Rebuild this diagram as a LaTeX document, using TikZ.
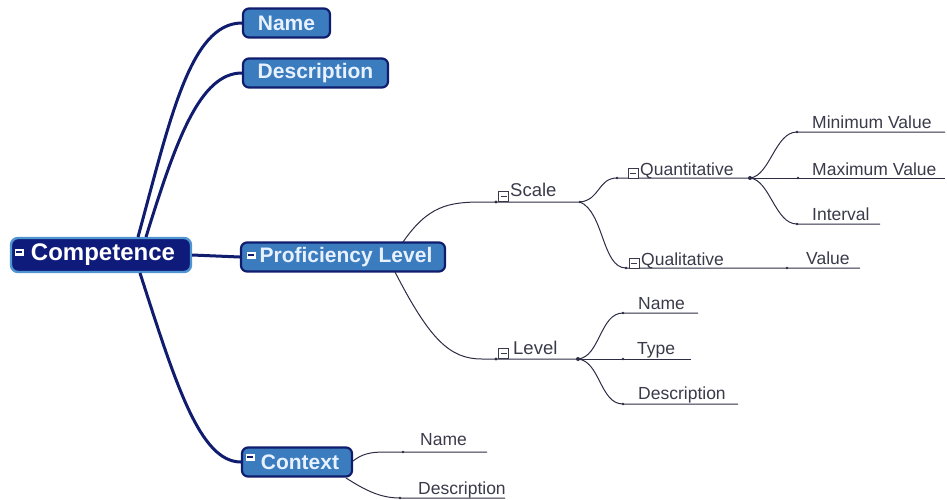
\documentclass[tikz,border=0pt]{standalone}
\usepackage{fontspec}
\setmainfont{Liberation Sans}
\definecolor{navy}{HTML}{101C6E}
\definecolor{boxblue}{HTML}{3A7CBE}
\definecolor{boxtext}{HTML}{E8F1FF}
\definecolor{compfill}{HTML}{0E1B7A}
\definecolor{compborder}{HTML}{4F95D2}
\definecolor{twiggray}{HTML}{2C2C44}
\definecolor{textgray}{HTML}{3A3A4A}
\begin{document}
\begin{tikzpicture}[x=1pt,y=-1pt,
  bigbox/.style={draw=navy, line width=2.2pt, fill=boxblue, rounded corners=6pt,
    text=boxtext, font=\fontsize{21}{25}\selectfont\bfseries, inner sep=0pt},
  compbox/.style={draw=compborder, line width=2.4pt, fill=compfill, rounded corners=7pt,
    text=white, font=\fontsize{24}{28}\selectfont\bfseries, inner sep=0pt},
  trunk/.style={draw=navy, line width=3pt},
  twig/.style={draw=twiggray, line width=1pt},
  lbl/.style={font=\fontsize{17.5}{20}\selectfont, text=textgray, inner sep=0pt, anchor=base west},
  sublbl/.style={font=\fontsize{18.5}{21}\selectfont, text=textgray, inner sep=0pt, anchor=base west},
  minusicon/.pic={\draw[draw=textgray, line width=0.7pt, fill=white] (-5,-5) rectangle (5,5);
                  \draw[draw=textgray, line width=0.9pt] (-3,0) -- (3,0);},
  whiteicon/.pic={\fill[white] (-4.5,-3.5) rectangle (4.5,3.5);
                  \draw[draw=navy, line width=1.2pt] (-3,0) -- (3,0);}
]
\useasboundingbox (0,0) rectangle (947,499);

% ---------- main boxes ----------
\node[compbox, minimum width=180pt, minimum height=34pt] (comp) at (101,255) {\hspace{4pt}Competence};
\node[bigbox, minimum width=87pt, minimum height=29pt] (name1) at (286.5,23) {Name};
\node[bigbox, minimum width=145pt, minimum height=29pt] (desc1) at (315.5,73) {Description};
\node[bigbox, minimum width=204pt, minimum height=29pt] (prof) at (343,257) {\hspace{6pt}Proficiency Level};
\node[bigbox, minimum width=110pt, minimum height=29pt] (ctx) at (297,462) {\hspace{6pt}Context};

\pic at (19,252) {whiteicon};
\pic at (251,255) {whiteicon};
\pic at (250,457) {whiteicon};

% ---------- thick connectors ----------
\coordinate (c1) at (138,237);
\coordinate (c2) at (146,237);
\coordinate (c3) at (140,273);
\draw[trunk] (c1) .. controls (170,120) and (190,23) .. (name1.west);
\draw[trunk] (c2) .. controls (176,140) and (200,73) .. (desc1.west);
\draw[trunk] (c3) .. controls (176,385) and (200,462) .. (ctx.west);
\draw[trunk] (comp.east) -- (prof.west);

% ---------- Proficiency level branches ----------
\coordinate (p1) at (403,242);
\coordinate (p2) at (395,272);
\coordinate (sA) at (482,202);
\coordinate (sB) at (580,202);
\coordinate (lA) at (482,359);
\coordinate (lB) at (578,359);
\draw[twig] (p1) .. controls (428,206) and (448,202) .. (sA) -- (sB);
\draw[twig] (p2) .. controls (430,340) and (450,359) .. (lA) -- (lB);
\fill[twiggray] (496,202) circle (1.6);
\fill[twiggray] (496,359) circle (1.6);
\pic at (503.5,196) {minusicon};
\pic at (503.5,353) {minusicon};
\node[sublbl] (scale) at (510,196) {Scale};
\node[sublbl] (level) at (513,354) {Level};

% Scale branches
\coordinate (qA) at (617,178);
\coordinate (qB) at (750,178);
\coordinate (qlA) at (626,268);
\coordinate (qlB) at (860,268);
\draw[twig] (sB) .. controls (600,200) and (598,178) .. (qA) -- (qB);
\draw[twig] (sB) .. controls (604,212) and (602,268) .. (qlA) -- (qlB);
\fill[twiggray] (sB) circle (1.4);
\fill[twiggray] (qA) circle (1.4);
\fill[twiggray] (qlA) circle (1.4);
\fill[twiggray] (787,268) circle (1.4);
\pic at (633,173) {minusicon};
\pic at (634,263) {minusicon};
\node[lbl] (quant) at (640,175) {Quantitative};
\node[lbl] (qual) at (641,265) {Qualitative};
\node[lbl] (value) at (806,264) {Value};

% Quantitative branches
\coordinate (mnA) at (797,132);
\coordinate (mnB) at (945,132);
\coordinate (mxB) at (945,178);
\coordinate (inA) at (797,224);
\coordinate (inB) at (880,224);
\draw[twig] (qB) .. controls (770,176) and (775,132) .. (mnA) -- (mnB);
\draw[twig] (qB) -- (mxB);
\draw[twig] (qB) .. controls (770,180) and (775,224) .. (inA) -- (inB);
\fill[twiggray] (qB) circle (2);
\fill[twiggray] (mnA) circle (1.4);
\fill[twiggray] (798,178) circle (1.4);
\fill[twiggray] (inA) circle (1.4);
\node[lbl] (minv) at (812,128) {Minimum Value};
\node[lbl] (maxv) at (812,175) {Maximum Value};
\node[lbl] (intv) at (812,220) {Interval};

% Level branches
\coordinate (lnA) at (623,313);
\coordinate (lnB) at (698,313);
\coordinate (ltB) at (691,359);
\coordinate (ldA) at (623,404);
\coordinate (ldB) at (738,404);
\draw[twig] (lB) .. controls (600,357) and (600,313) .. (lnA) -- (lnB);
\draw[twig] (lB) -- (ltB);
\draw[twig] (lB) .. controls (600,361) and (600,404) .. (ldA) -- (ldB);
\fill[twiggray] (lB) circle (2);
\fill[twiggray] (lnA) circle (1.4);
\fill[twiggray] (623,359) circle (1.4);
\fill[twiggray] (ldA) circle (1.4);
\node[lbl] (lname) at (638,309) {Name};
\node[lbl] (ltype) at (637,354) {Type};
\node[lbl] (ldesc) at (638,399) {Description};

% Context branches
\coordinate (x1) at (353,461);
\coordinate (x2) at (346,478);
\coordinate (cnA) at (385,452);
\coordinate (cnB) at (487,452);
\coordinate (cdA) at (400,498);
\coordinate (cdB) at (505,498);
\draw[twig] (x1) .. controls (362,454) and (370,452) .. (cnA) -- (cnB);
\draw[twig] (x2) .. controls (365,490) and (380,498) .. (cdA) -- (cdB);
\fill[twiggray] (403,452) circle (1.4);
\fill[twiggray] (cdA) circle (1.4);
\node[lbl] (cname) at (420,445) {Name};
\node[lbl] (cdesc) at (418,494) {Description};
\end{tikzpicture}
\end{document}
